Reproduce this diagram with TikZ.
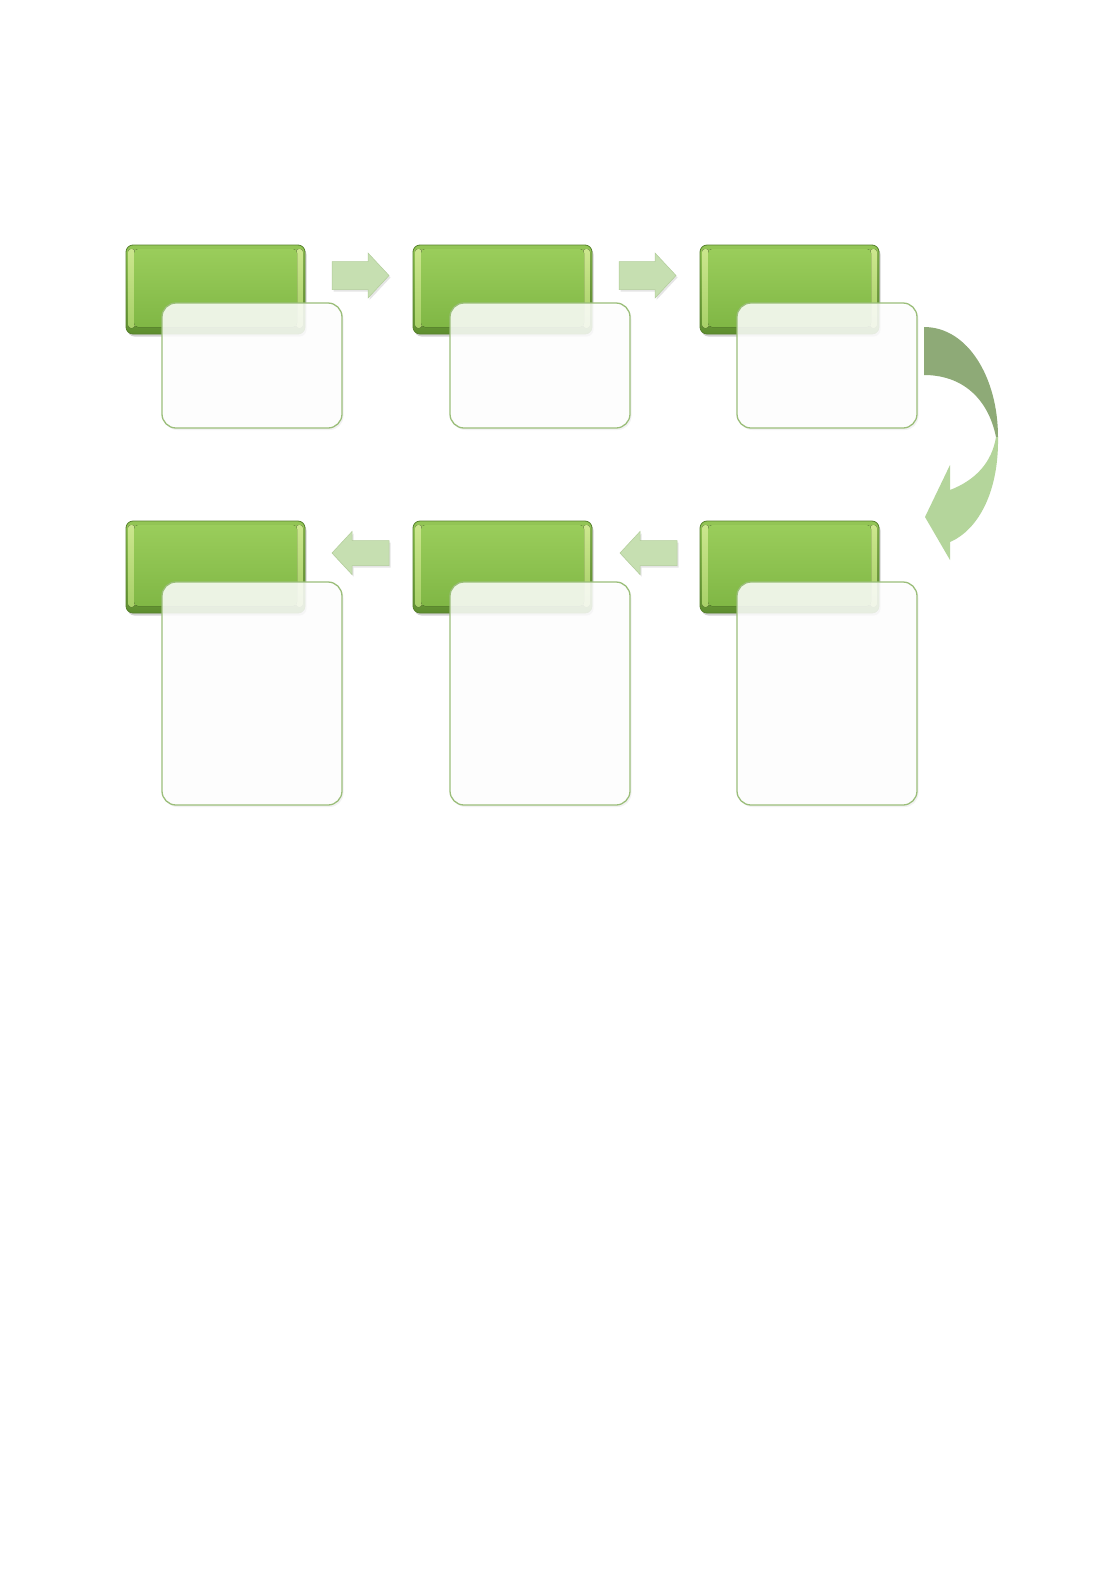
\documentclass[tikz,border=0pt]{standalone}
\usetikzlibrary{shadows}
\definecolor{gtop}{HTML}{9ACD5B}
\definecolor{gbot}{HTML}{80B745}
\definecolor{gouttop}{HTML}{94C656}
\definecolor{goutbot}{HTML}{5E8E2F}
\definecolor{gbevel}{HTML}{CDE78F}
\definecolor{gbevelb}{HTML}{A6CF66}
\definecolor{gedge}{HTML}{56802C}
\definecolor{wedge}{HTML}{9BBE7A}
\definecolor{afill}{HTML}{C6DFB1}
\definecolor{aedge}{HTML}{B2CD9A}
\definecolor{cdark}{HTML}{8EAA77}
\definecolor{clight}{HTML}{B4D59B}
\tikzset{
  greenbox/.style={anchor=north west, inner sep=0pt, outer sep=0pt,
    minimum width=179pt, minimum height=89pt, rounded corners=7pt,
    draw=gedge, line width=0.8pt,
    top color=gouttop, bottom color=goutbot,
    drop shadow={opacity=0.35, shadow xshift=1.5pt, shadow yshift=-2.5pt},
    path picture={
      \fill[top color=gbevel, bottom color=gbevelb, rounded corners=3pt]
        ([shift={(2pt,-4pt)}]path picture bounding box.north west) rectangle
        ([shift={(9pt,6pt)}]path picture bounding box.south west);
      \fill[top color=gbevel, bottom color=gbevelb, rounded corners=3pt]
        ([shift={(-9pt,-4pt)}]path picture bounding box.north east) rectangle
        ([shift={(-2pt,6pt)}]path picture bounding box.south east);
      \fill[top color=gtop, bottom color=gbot, rounded corners=4pt]
        ([shift={(8pt,-4pt)}]path picture bounding box.north west) rectangle
        ([shift={(-8pt,7pt)}]path picture bounding box.south east);}},
  whitebox/.style={anchor=north west, inner sep=0pt, outer sep=0pt,
    minimum width=180pt, rounded corners=14pt,
    draw=wedge, line width=1.3pt, fill=white, fill opacity=0.85, draw opacity=1,
    drop shadow={opacity=0.10, shadow xshift=1.5pt, shadow yshift=-2pt}},
  flowarrow/.style={fill=afill, draw=aedge, line width=0.5pt,
    drop shadow={opacity=0.2, shadow xshift=1.5pt, shadow yshift=-2pt}},
  rarrow/.pic={\path[flowarrow] (0,-14) -- (36,-14) -- (36,-22.5) -- (57,0) -- (36,22.5) -- (36,14) -- (0,14) -- cycle;},
  larrow/.pic={\path[flowarrow] (0,0) -- (20,-21.5) -- (20,-12.5) -- (57,-12.5) -- (57,12.5) -- (20,12.5) -- (20,21.5) -- cycle;}
}
\begin{document}
\begin{tikzpicture}[x=1pt,y=-1pt]
\useasboundingbox (0,0) rectangle (1094,1572);
\fill[white] (0,0) rectangle (1094,1572);
% top row
\node[greenbox] (g1) at (126,245) {};
\node[whitebox, minimum height=125pt] (w1) at (162,303) {};
\node[greenbox] (g2) at (413,245) {};
\node[whitebox, minimum height=125pt] (w2) at (450,303) {};
\node[greenbox] (g3) at (700,245) {};
\node[whitebox, minimum height=125pt] (w3) at (737,303) {};
% bottom row
\node[greenbox, minimum height=92pt] (g4) at (700,521) {};
\node[whitebox, minimum height=223pt] (w4) at (737,582) {};
\node[greenbox, minimum height=92pt] (g5) at (413,521) {};
\node[whitebox, minimum height=223pt] (w5) at (450,582) {};
\node[greenbox, minimum height=92pt] (g6) at (126,521) {};
\node[whitebox, minimum height=223pt] (w6) at (162,582) {};
% straight arrows
\pic at (332,275.5) {rarrow};
\pic at (619,275.5) {rarrow};
\pic at (620,553) {larrow};
\pic at (332,553) {larrow};
% curved arrow
\fill[cdark] (924,327) .. controls (968,327) and (998,378) .. (998,437)
  -- (996,437) .. controls (988,398) and (962,375) .. (924,375) -- cycle;
\fill[clight] (998,437) .. controls (999,492) and (978,530) .. (950,542)
  -- (950,560) -- (925,517) -- (950,465) -- (950,490)
  .. controls (976,480) and (992,462) .. (996,437) -- cycle;
\end{tikzpicture}
\end{document}
